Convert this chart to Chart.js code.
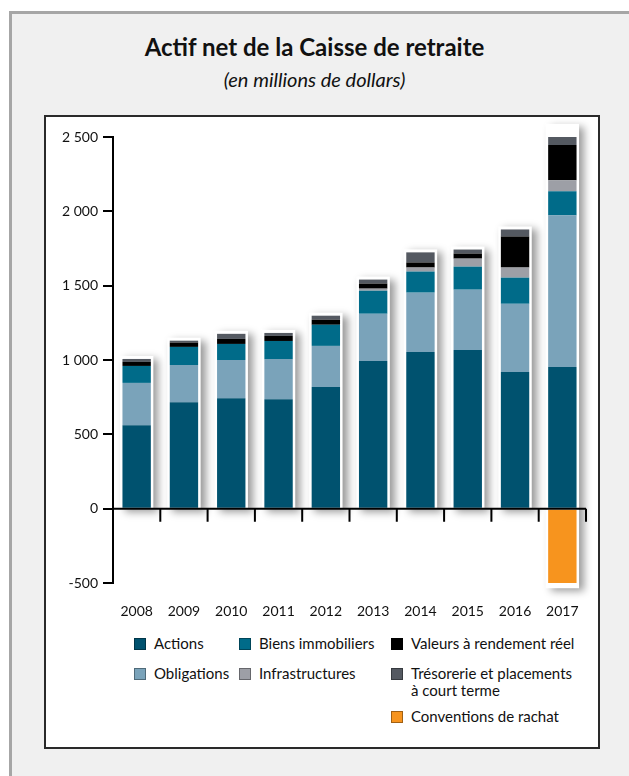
<!DOCTYPE html>
<html lang="fr">
<head>
  <meta charset="UTF-8">
  <title>Actif net de la Caisse de retraite</title>
  <script src="https://cdn.jsdelivr.net/npm/chart.js"></script>
  <style>
    body {
      margin: 0;
      background: #fff;
      font-family: Lato, "Open Sans", sans-serif;
      color: #111;
    }
    .outer {
      position: absolute;
      left: 9px;
      top: 11px;
      width: 660px;
      height: 800px;
      border: 3px solid #a6a6a6;
      background: #f0f0f0; /* light grey panel */
    }
    .title {
      position: absolute;
      left: 0;
      width: 629px;
      text-align: center;
    }
    #t1 { top: 32px; font-size: 24px; font-weight: bold; }
    #t2 { top: 67px; font-size: 20px; font-style: italic; }
    .inner {
      position: absolute;
      left: 44px;
      top: 115px;
      width: 556px;
      height: 634px;
      box-sizing: border-box;
      border: 2px solid #2a2a2a;
      background: #fff;
    }
    #chartBox {
      position: absolute;
      left: 46px;
      top: 118px;
    }
    #legend {
      position: absolute;
      left: 134px;
      top: 635px;
      display: grid;
      grid-template-columns: 105px 152px 200px;
      grid-template-rows: 30px 43px 17px;
      font-size: 15px;
      line-height: 17px;
    }
    .item {
      display: flex;
      align-items: flex-start;
    }
    .swatch {
      width: 12px;
      height: 12px;
      margin: 3px 8px 0 0;
      flex: none;
      box-sizing: border-box;
      border: 1px solid rgba(0,0,0,0.35);
    }
  </style>
</head>
<body>
  <div class="outer"></div>
  <div class="title" id="t1">Actif net de la Caisse de retraite</div>
  <div class="title" id="t2">(en millions de dollars)</div>
  <div class="inner"></div>
  <div id="chartBox"><canvas id="fundChart" width="552" height="510"></canvas></div>
  <div id="legend"></div>

  <script>
    // --- data (millions de dollars) ---
    const years = ['2008', '2009', '2010', '2011', '2012', '2013', '2014', '2015', '2016', '2017'];
    const actions        = [561, 716, 743, 736, 818, 993, 1054, 1068, 919, 953];
    const obligations    = [285, 250, 257, 270, 277, 318, 399, 405, 459, 1020];
    const biensImmo      = [114, 122, 108, 122, 142, 155, 142, 155, 176, 162];
    const infrastructures = [0, 0, 0, 0, 0, 14, 27, 54, 68, 74];
    const valeursReel    = [27, 29, 34, 34, 34, 34, 34, 34, 209, 237];
    const tresorerie     = [20, 13, 34, 20, 27, 27, 68, 27, 47, 122];
    const conventions    = [0, 0, 0, 0, 0, 0, 0, 0, 0, -515];
    const yTicks = [-500, 0, 500, 1000, 1500, 2000, 2500];

    const series = [
      { label: 'Actions', data: actions, color: '#00526f' },
      { label: 'Obligations', data: obligations, color: '#7aa3ba' },
      { label: 'Biens immobiliers', data: biensImmo, color: '#006b89' },
      { label: 'Infrastructures', data: infrastructures, color: '#9d9fa6' },
      { label: 'Valeurs à rendement réel', data: valeursReel, color: '#000000' },
      { label: 'Trésorerie et placements\nà court terme', data: tresorerie, color: '#545961' },
      { label: 'Conventions de rachat', data: conventions, color: '#f7941e' }
    ];

    // legend grid placement [column, row] for each series
    const legendSpots = [[1, 1], [1, 2], [2, 1], [2, 2], [3, 1], [3, 2], [3, 3]];

    function fmt(v) {
      return String(v).replace(/\B(?=(\d{3})+(?!\d))/g, ' ');
    }

    // white outline + drop shadow behind each stacked bar
    const barBacking = {
      id: 'barBacking',
      beforeDatasetsDraw(chart) {
        const ctx = chart.ctx;
        const y = chart.scales.y;
        const meta = chart.getDatasetMeta(0);
        ctx.save();
        meta.data.forEach((bar, i) => {
          let pos = 0, neg = 0;
          chart.data.datasets.forEach(ds => {
            const v = ds.data[i];
            if (v > 0) pos += v; else neg += v;
          });
          const top = y.getPixelForValue(pos) - 3;
          const bottom = y.getPixelForValue(neg) + (neg < 0 ? 3 : 0);
          const left = bar.x - bar.width / 2 - 2.5;
          ctx.shadowColor = 'rgba(0,0,0,0.4)';
          ctx.shadowBlur = 8;
          ctx.shadowOffsetX = 5;
          ctx.shadowOffsetY = 3;
          ctx.fillStyle = '#fff';
          ctx.fillRect(left, top, bar.width + 5, bottom - top);
        });
        ctx.restore();
      },
      afterDatasetsDraw(chart) {
        // zero line with tick marks between categories
        const ctx = chart.ctx;
        const x = chart.scales.x;
        const y = chart.scales.y;
        const y0 = y.getPixelForValue(0);
        const step = x.getPixelForValue(1) - x.getPixelForValue(0);
        ctx.save();
        ctx.strokeStyle = '#000';
        ctx.lineWidth = 2;
        ctx.beginPath();
        ctx.moveTo(x.left, y0);
        ctx.lineTo(x.right, y0);
        years.forEach((yr, i) => {
          const tx = x.getPixelForValue(i) + step / 2;
          ctx.moveTo(tx, y0);
          ctx.lineTo(tx, y0 + 13);
        });
        ctx.stroke();
        ctx.restore();
      }
    };

    new Chart(document.getElementById('fundChart'), {
      type: 'bar',
      data: {
        labels: years,
        datasets: series.map(s => ({
          label: s.label,
          data: s.data,
          backgroundColor: s.color,
          borderWidth: 0,
          barPercentage: 0.6,
          categoryPercentage: 1
        }))
      },
      options: {
        responsive: false,
        animation: false,
        devicePixelRatio: 1,
        layout: { padding: { left: 0, right: 12, top: 19, bottom: 0 } },
        plugins: {
          legend: { display: false },
          tooltip: { enabled: false }
        },
        scales: {
          x: {
            stacked: true,
            grid: { display: false },
            border: { display: false },
            ticks: {
              color: '#111',
              padding: 12,
              font: { family: 'Lato', size: 14 }
            },
            afterFit(scale) { scale.height = 45; }
          },
          y: {
            stacked: true,
            min: -500,
            max: 2500,
            afterBuildTicks(scale) { scale.ticks = yTicks.map(v => ({ value: v })); },
            grid: {
              drawOnChartArea: false,
              drawTicks: true,
              tickLength: 10,
              color: '#000',
              lineWidth: 2
            },
            border: { display: true, color: '#000', width: 2 },
            ticks: {
              color: '#111',
              padding: 5,
              font: { family: 'Lato', size: 14 },
              callback: v => fmt(v)
            },
            afterFit(scale) { scale.width = 67; }
          }
        }
      },
      plugins: [barBacking]
    });

    // html legend
    const legend = document.getElementById('legend');
    series.forEach((s, i) => {
      const item = document.createElement('div');
      item.className = 'item';
      item.style.gridColumn = legendSpots[i][0];
      item.style.gridRow = legendSpots[i][1];
      item.innerHTML = '<span class="swatch" style="background:' + s.color + '"></span><span>' +
        s.label.replace('\n', '<br>') + '</span>';
      legend.appendChild(item);
    });
  </script>
</body>
</html>
